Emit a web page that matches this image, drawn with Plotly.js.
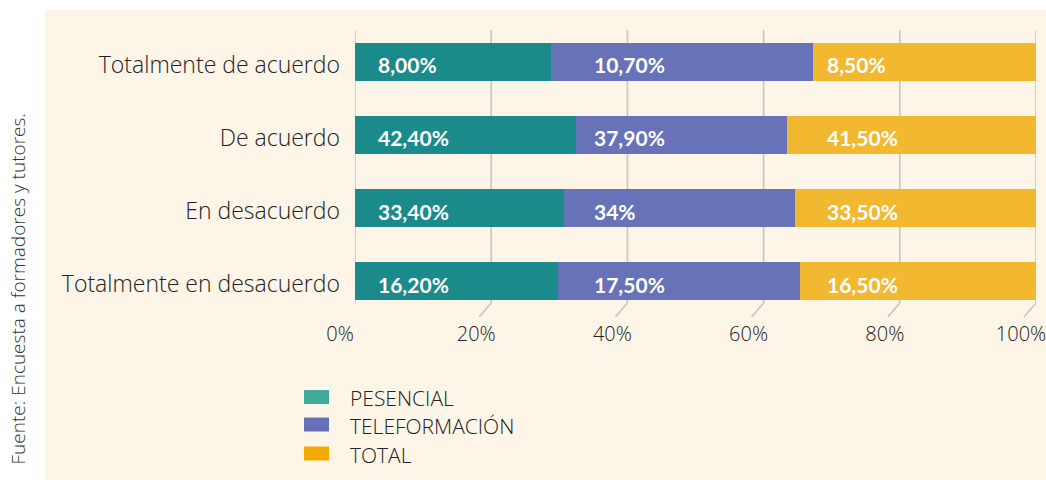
<!DOCTYPE html>
<html>
<head>
<meta charset="utf-8">
<script src="https://cdn.plot.ly/plotly-3.0.1.min.js"></script>
<style>html,body{margin:0;padding:0;background:#fff;}#chart{width:1046px;height:480px;}</style>
</head>
<body>
<div id="chart"></div>
<script>
// ---- data ----
const categories = ["Totalmente de acuerdo", "De acuerdo", "En desacuerdo", "Totalmente en desacuerdo"];
const seriesNames = ["PESENCIAL", "TELEFORMACIÓN", "TOTAL"];
// label values (as printed on the bars)
const presencialLabels = ["8,00%", "42,40%", "33,40%", "16,20%"];
const teleformacionLabels = ["10,70%", "37,90%", "34%", "17,50%"];
const totalLabels = ["8,50%", "41,50%", "33,50%", "16,50%"];
// segment shares of each 100% bar, as drawn
const presencialShare = [28.8, 32.4, 30.7, 29.8];
const teleformacionShare = [38.4, 31.1, 33.9, 35.5];
const totalShare = [32.8, 36.5, 35.4, 34.7];
const xTicks = [0, 20, 40, 60, 80, 100];
const xTickLabels = ["0%", "20%", "40%", "60%", "80%", "100%"];
const sourceText = "Fuente: Encuesta a formadores y tutores.";

// ---- styles ----
const barColors = ["#1B8A8A", "#6872B8", "#F2B830"];
const legendColors = ["#40AA98", "#6670B8", "#F2A900"];
const FONT = "'Open Sans', sans-serif";
const BOLD = "Lato, 'Open Sans', sans-serif";
const TXT = "#222222";
const W = 1046, H = 480;
const M = {l: 355, r: 10, t: 25, b: 162};
const PW = W - M.l - M.r, PH = H - M.t - M.b;
const px = p => (p - M.l) / PW;          // pixel x -> paper x
const py = q => (H - M.b - q) / PH;      // pixel y -> paper y

const shares = [presencialShare, teleformacionShare, totalShare];
const labels = [presencialLabels, teleformacionLabels, totalLabels];

const traces = seriesNames.map((n, i) => ({
  type: "bar", orientation: "h", name: n,
  x: shares[i], y: categories,
  marker: {color: barColors[i], line: {width: 0}},
  hoverinfo: "name+y", showlegend: false
}));

const shapes = [];
// background panel
shapes.push({type: "rect", xref: "paper", yref: "paper", x0: px(45), x1: px(1046), y0: py(480), y1: py(10),
  fillcolor: "#FDF5E7", line: {width: 0}, layer: "below"});
// gridlines with bent leader to tick labels
xTicks.forEach(t => {
  shapes.push({type: "line", xref: "x", yref: "paper", x0: t, x1: t, y0: py(303), y1: py(30),
    line: {color: "#C9C5BE", width: 1.6}, layer: "below"});
  shapes.push({type: "line", xref: "x", yref: "paper", xsizemode: "pixel", xanchor: t, x0: 0, x1: -12,
    y0: py(303), y1: py(317), line: {color: "#C9C5BE", width: 1.6}, layer: "below"});
});

const annotations = [];
// value labels at fixed columns
const labelCols = [376, 592, 825];
labels.forEach((arr, i) => {
  arr.forEach((txt, j) => {
    annotations.push({xref: "paper", yref: "y", x: px(labelCols[i]), y: categories[j], yshift: -3,
      xanchor: "left", yanchor: "middle", showarrow: false, text: "<b>" + txt + "</b>",
      font: {family: BOLD, size: 21, color: "#FFFFFF"}});
  });
});
// legend
const legendRows = [397, 424.5, 453.5];
seriesNames.forEach((n, i) => {
  shapes.push({type: "rect", xref: "paper", yref: "paper", x0: px(304), x1: px(329),
    y0: py(legendRows[i] + 7), y1: py(legendRows[i] - 7), fillcolor: legendColors[i], line: {width: 0}});
  annotations.push({xref: "paper", yref: "paper", x: px(348), y: py(legendRows[i] + 1), xanchor: "left", yanchor: "middle",
    showarrow: false, text: n, font: {family: FONT, size: 21, weight: 300, color: TXT}});
});
// source
annotations.push({xref: "paper", yref: "paper", x: px(17), y: py(112), xanchor: "center", yanchor: "top",
  textangle: -90, showarrow: false, text: sourceText, font: {family: FONT, size: 19, weight: 300, color: "#333333"}});

const layout = {
  width: W, height: H,
  margin: M,
  paper_bgcolor: "#FFFFFF", plot_bgcolor: "rgba(0,0,0,0)",
  barmode: "stack", bargap: 0.48,
  showlegend: false,
  font: {family: FONT, color: TXT},
  xaxis: {range: [0, 100], tickvals: xTicks, ticktext: xTickLabels, showgrid: false, zeroline: false,
    showline: false, ticks: "", tickfont: {family: FONT, size: 20, weight: 300, color: TXT},
    ticklabelshift: -15, ticklabelstandoff: 2, ticklabeloverflow: "allow", fixedrange: true},
  yaxis: {type: "category", autorange: "reversed", showgrid: false, zeroline: false, showline: false,
    ticks: "", ticklabelstandoff: 14, ticklabelshift: -3, tickfont: {family: FONT, size: 23, weight: 300, color: TXT}, fixedrange: true},
  shapes: shapes, annotations: annotations
};

Plotly.newPlot("chart", traces, layout, {displayModeBar: false, staticPlot: true});
</script>
</body>
</html>
